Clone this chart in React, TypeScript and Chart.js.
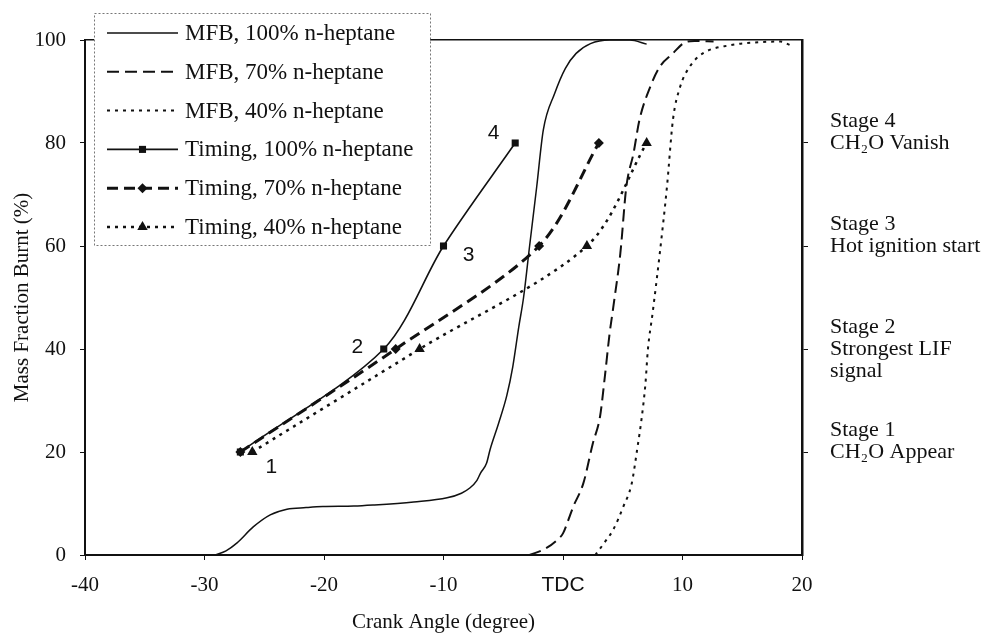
import React, { useEffect, useRef } from 'react';
import { Chart, registerables } from 'chart.js';

Chart.register(...registerables);

// ---- data ----
const mfb100X = [-29.1, -28.2, -27.3, -25.9, -24.5, -23.1, -21.5, -20.1, -17.5, -15.9, -12.5, -9.7, -8.5, -7.8, -7.2, -6.9, -6.4, -6.1, -5.4, -4.7, -4.2, -3.7, -3.3, -2.8, -2.2, -1.65, -0.7, 0.2, 1.1, 2.3, 3.9, 5.6, 7.0];
const mfb100Y = [0, 0.8, 2.3, 5.5, 7.8, 8.9, 9.2, 9.4, 9.5, 9.7, 10.3, 11.1, 12.0, 13.0, 14.5, 15.9, 17.8, 20.5, 25.5, 31.0, 36.6, 44.3, 50.0, 59.9, 71.5, 82.5, 89.6, 94.5, 97.4, 99.3, 100, 100, 99.2];

const mfb70X = [-2.8, -1.5, -0.5, 0.0, 0.4, 0.86, 1.7, 2.5, 3.1, 3.5, 3.9, 4.2, 4.8, 5.3, 5.9, 6.4, 7.3, 8.1, 9.2, 10.1, 11.0, 12.6];
const mfb70Y = [0, 1.2, 2.9, 4.2, 6.5, 9.4, 13.9, 21.7, 26.9, 34.6, 43.0, 48.0, 58.6, 71.5, 78.0, 84.5, 90.9, 94.8, 97.4, 99.4, 99.8, 99.7];

const mfb40X = [2.7, 3.5, 4.2, 5.05, 5.75, 6.2, 6.6, 6.9, 7.1, 7.5, 8.1, 8.7, 9.2, 9.8, 10.6, 11.7, 14.0, 16.0, 18.2, 19.0];
const mfb40Y = [0, 2.5, 4.9, 9.4, 13.9, 20.4, 26.9, 33.3, 39.8, 47.0, 58.6, 71.5, 84.5, 90.9, 94.8, 97.4, 99.0, 99.5, 99.7, 99.0];

const timingY = [20, 40, 60, 80];
const timing100X = [-27, -15, -10, -4];
const timing70X = [-27, -14, -2, 3];
const timing40X = [-26, -12, 2, 7];

const xTicks = [-40, -30, -20, -10, 0, 10, 20];
const xTickLabels = ['-40', '-30', '-20', '-10', 'TDC', '10', '20'];
const yTicks = [0, 20, 40, 60, 80, 100];
const stageTicks = [20, 40, 60, 80];
const stageLabels = [
  ['Stage 1', 'CH\u2082O Appear', ''],
  ['Stage 2', 'Strongest LIF', 'signal'],
  ['Stage 3', 'Hot ignition start', ''],
  ['Stage 4', 'CH\u2082O Vanish', ''],
];
const stepLabels = ['1', '2', '3', '4'];
const stepLabelX = [-24.4, -17.2, -7.9, -5.8];
const stepLabelY = [17, 40.4, 58.3, 81.9];

const legendLabels = [
  'MFB, 100% n-heptane',
  'MFB, 70% n-heptane',
  'MFB, 40% n-heptane',
  'Timing, 100% n-heptane',
  'Timing, 70% n-heptane',
  'Timing, 40% n-heptane',
];

const SERIF = '"Liberation Serif", "Times New Roman", serif';
const SANS = '"Liberation Sans", Arial, sans-serif';
const INK = '#111';

const zip = (xs: number[], ys: number[]) => xs.map((x, i) => ({ x, y: ys[i] }));

const styles = [
  { dash: [], width: 1.5, marker: null as string | null, r: 0 },
  { dash: [12, 6], width: 2, marker: null, r: 0 },
  { dash: [3, 5], width: 2, marker: null, r: 0 },
  { dash: [], width: 1.6, marker: 'rect', r: 5 },
  { dash: [11, 6], width: 3, marker: 'rectRot', r: 5 },
  { dash: [3, 5], width: 2.5, marker: 'triangle', r: 6 },
];

function drawMarker(ctx: CanvasRenderingContext2D, type: string | null, x: number, y: number, r: number) {
  if (!type) return;
  ctx.save();
  ctx.setLineDash([]);
  ctx.fillStyle = INK;
  ctx.beginPath();
  if (type === 'rect') {
    const h = r * Math.SQRT1_2;
    ctx.rect(x - h, y - h, 2 * h, 2 * h);
  } else if (type === 'rectRot') {
    ctx.moveTo(x, y - r); ctx.lineTo(x + r, y); ctx.lineTo(x, y + r); ctx.lineTo(x - r, y); ctx.closePath();
  } else if (type === 'triangle') {
    ctx.moveTo(x, y - r); ctx.lineTo(x + r * 0.87, y + r * 0.5); ctx.lineTo(x - r * 0.87, y + r * 0.5); ctx.closePath();
  }
  ctx.fill();
  ctx.restore();
}

const overlayPlugin = {
  id: 'overlay',
  afterDraw(chart: any) {
    const ctx: CanvasRenderingContext2D = chart.ctx;
    const xs = chart.scales.x;
    const ys = chart.scales.y;
    ctx.save();
    // step number labels
    ctx.font = `21px ${SANS}`;
    ctx.fillStyle = INK;
    ctx.textAlign = 'center';
    ctx.textBaseline = 'middle';
    stepLabels.forEach((t, i) => {
      ctx.fillText(t, xs.getPixelForValue(stepLabelX[i]), ys.getPixelForValue(stepLabelY[i]));
    });
    // legend box
    const L = 94, T = 13, R = 430, B = 245;
    ctx.fillStyle = '#fff';
    ctx.fillRect(L, T, R - L, B - T);
    ctx.setLineDash([2, 2]);
    ctx.strokeStyle = '#777';
    ctx.lineWidth = 1;
    ctx.strokeRect(L + 0.5, T + 0.5, R - L, B - T);
    ctx.font = `23px ${SERIF}`;
    ctx.textAlign = 'left';
    legendLabels.forEach((label, i) => {
      const y = T + 20 + i * 38.8;
      const s = styles[i];
      ctx.setLineDash(s.dash);
      ctx.strokeStyle = INK;
      ctx.lineWidth = s.width;
      ctx.beginPath();
      ctx.moveTo(107, y);
      ctx.lineTo(178, y);
      ctx.stroke();
      drawMarker(ctx, s.marker, 142.5, y, s.r);
      ctx.setLineDash([]);
      ctx.fillStyle = INK;
      ctx.fillText(label, 185, y + 1);
    });
    ctx.restore();
  },
};

const noPad = (s: any) => {
  s.paddingTop = 0;
  s.paddingBottom = 0;
  s.paddingLeft = 0;
  s.paddingRight = 0;
};

export default function App() {
  const ref = useRef<HTMLCanvasElement | null>(null);

  useEffect(() => {
    if (!ref.current) return;
    const series = [
      zip(mfb100X, mfb100Y),
      zip(mfb70X, mfb70Y),
      zip(mfb40X, mfb40Y),
      zip(timing100X, timingY),
      zip(timing70X, timingY),
      zip(timing40X, timingY),
    ];
    const datasets = series.map((data, i) => {
      const s = styles[i];
      const isTiming = i >= 3;
      return {
        label: legendLabels[i],
        data,
        showLine: true,
        borderColor: INK,
        backgroundColor: INK,
        borderWidth: s.width,
        borderDash: s.dash,
        tension: isTiming ? 0.3 : 0,
        cubicInterpolationMode: isTiming ? 'default' : 'monotone',
        pointStyle: s.marker || 'circle',
        pointRadius: isTiming ? s.r : 0,
        pointBorderWidth: 0,
        pointBackgroundColor: INK,
        clip: false,
        order: 6 - i,
      };
    });

    const tickGrid = (len: number) => ({
      display: true,
      drawOnChartArea: false,
      drawTicks: true,
      tickLength: len,
      color: INK,
      lineWidth: 1,
    });

    const chart = new Chart(ref.current, {
      type: 'scatter',
      data: { datasets } as any,
      plugins: [overlayPlugin],
      options: {
        animation: false,
        responsive: true,
        maintainAspectRatio: false,
        layout: { padding: 0 },
        plugins: { legend: { display: false }, tooltip: { enabled: false } },
        scales: {
          x: {
            type: 'linear',
            position: 'bottom',
            min: -40,
            max: 20,
            afterBuildTicks: (s: any) => { s.ticks = xTicks.map((v) => ({ value: v })); },
            afterFit: (s: any) => { s.height = 80; noPad(s); },
            ticks: {
              color: INK,
              padding: 13,
              callback: (v: any) => xTickLabels[xTicks.indexOf(Number(v))] ?? String(v),
              font: (c: any) => (c.tick && c.tick.value === 0
                ? { family: SANS, size: 21 }
                : { family: SERIF, size: 21 }),
            },
            grid: tickGrid(5),
            border: { display: true, color: INK, width: 2 },
            title: {
              display: true,
              text: 'Crank Angle (degree)',
              color: INK,
              font: { family: SERIF, size: 21 },
              padding: { top: 0, bottom: 0 },
            },
          },
          xTop: {
            type: 'linear',
            position: 'top',
            min: -40,
            max: 20,
            afterFit: (s: any) => { s.height = 40; noPad(s); },
            ticks: { display: false },
            grid: { display: true, drawOnChartArea: false, drawTicks: false },
            border: { display: true, color: INK, width: 1.5 },
          },
          y: {
            type: 'linear',
            position: 'left',
            min: 0,
            max: 100,
            afterBuildTicks: (s: any) => { s.ticks = yTicks.map((v) => ({ value: v })); },
            afterFit: (s: any) => { s.width = 85; noPad(s); },
            ticks: { color: INK, padding: 14, font: { family: SERIF, size: 21 } },
            grid: tickGrid(5),
            border: { display: true, color: INK, width: 2 },
            title: {
              display: true,
              text: 'Mass Fraction Burnt (%)',
              color: INK,
              font: { family: SERIF, size: 21 },
              padding: { top: 10, bottom: 0 },
            },
          },
          y2: {
            type: 'linear',
            position: 'right',
            min: 0,
            max: 100,
            afterBuildTicks: (s: any) => { s.ticks = stageTicks.map((v) => ({ value: v })); },
            afterFit: (s: any) => { s.width = 184; noPad(s); },
            ticks: {
              color: INK,
              padding: 22,
              font: { family: SERIF, size: 22, lineHeight: 1.0 },
              callback: (v: any) => stageLabels[stageTicks.indexOf(Number(v))] ?? '',
            },
            grid: tickGrid(6),
            border: { display: true, color: INK, width: 2.5 },
          },
        },
      } as any,
    });
    return () => chart.destroy();
  }, []);

  return (
    <div style={{ position: 'absolute', left: 0, top: 0, width: 986, height: 635, background: '#fff' }}>
      <canvas ref={ref} />
    </div>
  );
}
